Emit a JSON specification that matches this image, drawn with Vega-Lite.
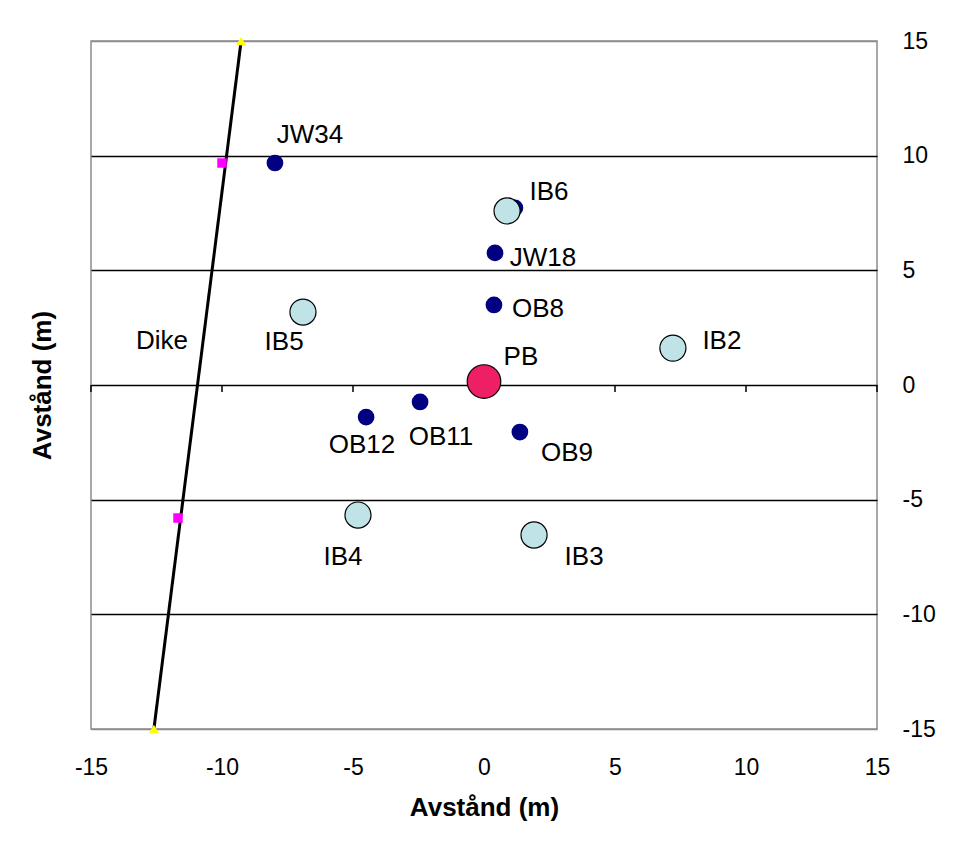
{
  "$schema": "https://vega.github.io/schema/vega-lite/v6.json",
  "width": 786,
  "height": 688,
  "autosize": {"type": "none"},
  "padding": {"left": 91, "top": 41, "right": 82, "bottom": 127},
  "background": "white",
  "config": {
    "view": {"stroke": "#8c8c8c", "strokeWidth": 1.5},
    "font": "Liberation Sans"
  },
  "datasets": {
    "dike": [
      {"x": -12.6, "y": -15},
      {"x": -9.27, "y": 15}
    ],
    "markers": [
      {"x": -10.0, "y": 9.68},
      {"x": -11.68, "y": -5.8}
    ],
    "ticks": [
      {"x": -15, "y": 0, "y2": -0.3},
      {"x": -10, "y": 0, "y2": -0.3},
      {"x": -5, "y": 0, "y2": -0.3},
      {"x": 0, "y": 0, "y2": -0.3},
      {"x": 5, "y": 0, "y2": -0.3},
      {"x": 10, "y": 0, "y2": -0.3},
      {"x": 15, "y": 0, "y2": -0.3}
    ],
    "wells": [
      {"name": "JW34", "x": -7.98, "y": 9.68},
      {"name": "IB6", "x": 1.18, "y": 7.72},
      {"name": "JW18", "x": 0.42, "y": 5.76},
      {"name": "OB8", "x": 0.38, "y": 3.49},
      {"name": "IB2", "x": 7.33, "y": 1.7},
      {"name": "OB12", "x": -4.5, "y": -1.4},
      {"name": "OB11", "x": -2.44, "y": -0.74},
      {"name": "OB9", "x": 1.37, "y": -2.05}
    ],
    "boreholes": [
      {"name": "IB6", "x": 0.88, "y": 7.59},
      {"name": "IB2", "x": 7.21, "y": 1.61},
      {"name": "IB5", "x": -6.91, "y": 3.18},
      {"name": "IB4", "x": -4.81, "y": -5.67},
      {"name": "IB3", "x": 1.91, "y": -6.54}
    ],
    "pump": [
      {"name": "PB", "x": 0, "y": 0.15}
    ],
    "labels": [
      {"label": "JW34", "x": -6.64, "y": 10.9},
      {"label": "IB6", "x": 2.48, "y": 8.42},
      {"label": "JW18", "x": 2.25, "y": 5.54},
      {"label": "OB8", "x": 2.06, "y": 3.31},
      {"label": "PB", "x": 1.41, "y": 1.22},
      {"label": "IB2", "x": 9.08, "y": 1.92},
      {"label": "IB5", "x": -7.63, "y": 1.88},
      {"label": "OB12", "x": -4.66, "y": -2.62},
      {"label": "OB11", "x": -1.64, "y": -2.27},
      {"label": "OB9", "x": 3.17, "y": -2.97},
      {"label": "IB4", "x": -5.38, "y": -7.5},
      {"label": "IB3", "x": 3.82, "y": -7.5},
      {"label": "Dike", "x": -12.29, "y": 1.92}
    ]
  },
  "layer": [
    {
      "data": {"name": "wells"},
      "mark": {"type": "point", "shape": "circle", "filled": true, "color": "#000080", "size": 280, "opacity": 1},
      "encoding": {
        "x": {
          "field": "x", "type": "quantitative",
          "scale": {"domain": [-15, 15], "nice": false},
          "axis": {
            "orient": "bottom", "values": [-15, -10, -5, 0, 5, 10, 15],
            "labelExpr": "replace(datum.label, '\u2212', '-')",
            "grid": false, "ticks": false, "domain": false, "labelFlush": false,
            "labelFontSize": 23, "labelColor": "black", "labelPadding": 27,
            "title": "Avstånd (m)", "titleFontSize": 26, "titleFontWeight": "bold",
            "titleColor": "black", "titlePadding": 15
          }
        },
        "y": {
          "field": "y", "type": "quantitative",
          "scale": {"domain": [-15, 15], "nice": false},
          "axis": {
            "orient": "right", "values": [-15, -10, -5, 0, 5, 10, 15],
            "labelExpr": "replace(datum.label, '\u2212', '-')",
            "grid": true,
            "gridColor": {"condition": {"test": "abs(datum.value) == 15", "value": "#8c8c8c"}, "value": "black"},
            "gridWidth": 1.5, "gridOpacity": 1,
            "ticks": false, "domain": false, "labelFlush": false,
            "labelFontSize": 23, "labelColor": "black", "labelPadding": 25,
            "labelAlign": "left", "labelBaseline": "middle", "title": null
          }
        }
      }
    },
    {
      "data": {"name": "dike"},
      "mark": {"type": "line", "color": "black", "strokeWidth": 3},
      "encoding": {
        "x": {"field": "x", "type": "quantitative", "axis": null},
        "y": {
          "field": "y", "type": "quantitative",
          "axis": {
            "orient": "left", "labels": false, "ticks": false, "domain": false, "grid": false,
            "title": "Avstånd (m)", "titleFontSize": 26, "titleFontWeight": "bold",
            "titleColor": "black", "titlePadding": 36
          }
        }
      }
    },
    {
      "mark": {"type": "rule", "color": "black", "strokeWidth": 1.5},
      "encoding": {
        "x": {"datum": 0, "type": "quantitative", "axis": null}
      }
    },
    {
      "data": {"name": "ticks"},
      "mark": {"type": "rule", "color": "black", "strokeWidth": 1.5},
      "encoding": {
        "x": {"field": "x", "type": "quantitative", "axis": null},
        "y": {"field": "y", "type": "quantitative", "axis": null},
        "y2": {"field": "y2"}
      }
    },
    {
      "data": {"name": "dike"},
      "mark": {"type": "point", "shape": "triangle-up", "filled": true, "color": "#ffff00", "size": 100, "opacity": 1},
      "encoding": {
        "x": {"field": "x", "type": "quantitative", "axis": null},
        "y": {"field": "y", "type": "quantitative", "axis": null}
      }
    },
    {
      "data": {"name": "markers"},
      "mark": {"type": "point", "shape": "square", "filled": true, "color": "#ff00ff", "size": 90, "opacity": 1},
      "encoding": {
        "x": {"field": "x", "type": "quantitative", "axis": null},
        "y": {"field": "y", "type": "quantitative", "axis": null}
      }
    },
    {
      "data": {"name": "boreholes"},
      "mark": {"type": "point", "shape": "circle", "filled": true, "fill": "#bfe3e6", "stroke": "black", "strokeWidth": 1.2, "size": 680, "opacity": 1, "fillOpacity": 1},
      "encoding": {
        "x": {"field": "x", "type": "quantitative", "axis": null},
        "y": {"field": "y", "type": "quantitative", "axis": null}
      }
    },
    {
      "data": {"name": "pump"},
      "mark": {"type": "point", "shape": "circle", "filled": true, "fill": "#ee1f64", "stroke": "black", "strokeWidth": 1.2, "size": 1130, "opacity": 1, "fillOpacity": 1},
      "encoding": {
        "x": {"field": "x", "type": "quantitative", "axis": null},
        "y": {"field": "y", "type": "quantitative", "axis": null}
      }
    },
    {
      "data": {"name": "labels"},
      "mark": {"type": "text", "align": "center", "baseline": "middle", "fontSize": 26, "color": "black"},
      "encoding": {
        "x": {"field": "x", "type": "quantitative", "axis": null},
        "y": {"field": "y", "type": "quantitative", "axis": null},
        "text": {"field": "label"}
      }
    }
  ],
  "resolve": {"axis": {"x": "independent", "y": "independent"}}
}
